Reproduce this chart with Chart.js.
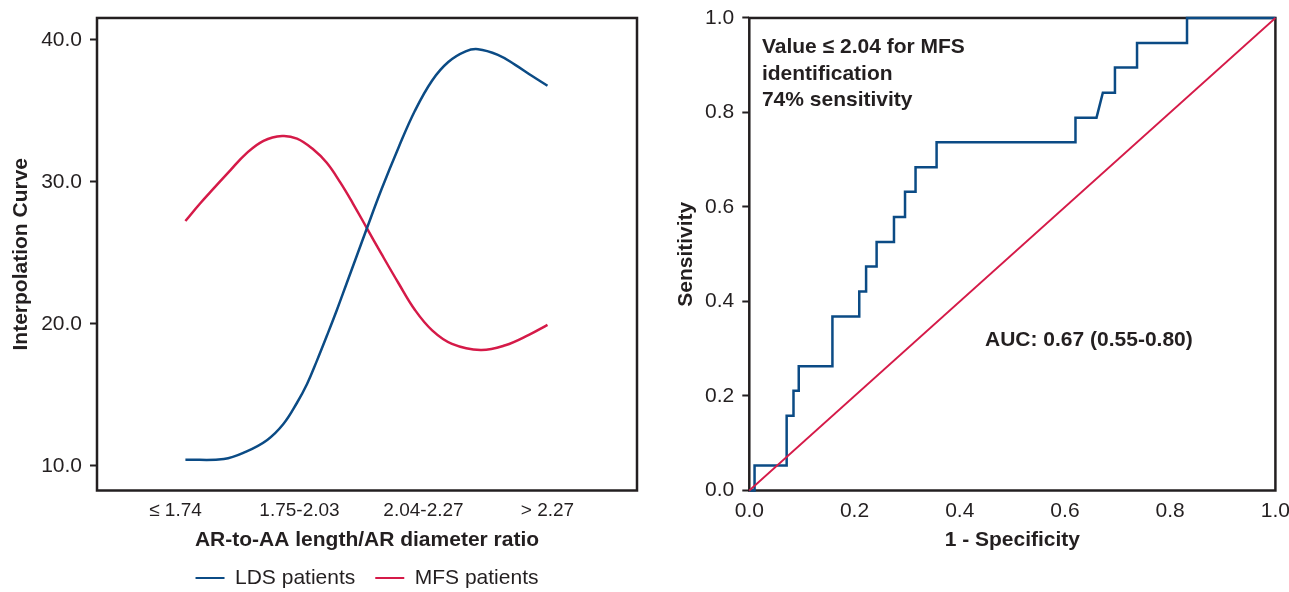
<!DOCTYPE html>
<html>
<head>
<meta charset="utf-8">
<title>AR-to-AA ratio and ROC</title>
<script src="https://cdn.jsdelivr.net/npm/chart.js@4.4.1/dist/chart.umd.min.js"></script>
<style>
  html, body { margin: 0; padding: 0; background: #fff; overflow: hidden; }
  #wrap { position: relative; width: 1289px; height: 592px; overflow: hidden; }
  .box { position: absolute; top: 0; height: 600px; }
  #left { left: 0; width: 650px; }
  #right { left: 650px; width: 648px; }
</style>
</head>
<body>
<div id="wrap">
  <div class="box" id="left"><canvas id="curveChart"></canvas></div>
  <div class="box" id="right"><canvas id="rocChart"></canvas></div>
</div>
<script>
// ---- left panel: interpolation curves per ratio category ----
const ratioLabels = ['≤ 1.74', '1.75-2.03', '2.04-2.27', '> 2.27'];
const ratioTicks = [0, 1, 2, 3];
const curveTicks = [10, 20, 30, 40];

// curve, x in category units
const ldsX = [0.08, 0.39, 0.57, 0.74, 0.87, 0.98, 1.06, 1.14, 1.22, 1.30, 1.38, 1.46, 1.54, 1.66, 1.80, 1.93, 2.07, 2.20, 2.34, 2.44, 2.60, 2.74, 2.87, 3.00];
const ldsY = [10.44, 10.49, 11.01, 11.83, 12.95, 14.45, 15.75, 17.40, 19.15, 20.95, 22.85, 24.75, 26.65, 29.45, 32.45, 35.00, 37.15, 38.45, 39.20, 39.35, 38.95, 38.25, 37.50, 36.78];
const mfsX = [0.08, 0.20, 0.31, 0.44, 0.57, 0.71, 0.86, 0.98, 1.11, 1.22, 1.33, 1.43, 1.54, 1.66, 1.80, 1.93, 2.07, 2.23, 2.46, 2.66, 2.85, 3.00];
const mfsY = [27.25, 28.50, 29.56, 30.80, 32.00, 32.90, 33.24, 33.05, 32.30, 31.35, 29.95, 28.50, 26.80, 24.95, 22.85, 21.00, 19.55, 18.60, 18.17, 18.50, 19.23, 19.93];

// ---- right panel: ROC curve ----
const rocTicks = [0, 0.2, 0.4, 0.6, 0.8, 1.0];
const rocFpr = [0, 0.010, 0.010, 0.071, 0.071, 0.084, 0.084, 0.094, 0.094, 0.158, 0.158, 0.209, 0.209, 0.222, 0.222, 0.242, 0.242, 0.275, 0.275, 0.296, 0.296, 0.316, 0.316, 0.356, 0.356, 0.620, 0.620, 0.660, 0.672, 0.695, 0.695, 0.737, 0.737, 0.832, 0.832, 1];
const rocTpr = [0, 0, 0.053, 0.053, 0.158, 0.158, 0.211, 0.211, 0.263, 0.263, 0.368, 0.368, 0.421, 0.421, 0.474, 0.474, 0.526, 0.526, 0.579, 0.579, 0.632, 0.632, 0.684, 0.684, 0.737, 0.737, 0.789, 0.789, 0.842, 0.842, 0.895, 0.895, 0.947, 0.947, 1, 1];
const chanceX = [0, 1];
const chanceY = [0, 1];

const cutoffNote = ['Value ≤ 2.04 for MFS', 'identification', '74% sensitivity'];
const aucNote = 'AUC: 0.67 (0.55-0.80)';

const INK = '#231f20';
const BLUE = '#0b4b85';
const RED = '#d51a48';
const FONT = "'Liberation Sans', Arial, Helvetica, sans-serif";

Chart.defaults.font.family = FONT;
Chart.defaults.color = INK;

const pts = (xs, ys) => xs.map((x, i) => ({ x, y: ys[i] }));

// box around the plot area, drawn under the lines
const framePlugin = {
  id: 'frame',
  beforeDatasetsDraw(chart) {
    const { ctx, chartArea: a } = chart;
    ctx.save();
    ctx.strokeStyle = INK;
    ctx.lineWidth = 2.5;
    ctx.strokeRect(a.left, a.top, a.right - a.left, a.bottom - a.top);
    ctx.restore();
  }
};

const yTickGrid = { drawOnChartArea: false, drawTicks: true, tickLength: 7, tickWidth: 2, tickColor: INK };

new Chart(document.getElementById('curveChart'), {
  type: 'line',
  data: {
    datasets: [
      { label: 'LDS patients', data: pts(ldsX, ldsY), borderColor: BLUE, backgroundColor: BLUE, borderWidth: 2.5, pointRadius: 0, tension: 0.4 },
      { label: 'MFS patients', data: pts(mfsX, mfsY), borderColor: RED, backgroundColor: RED, borderWidth: 2.5, pointRadius: 0, tension: 0.4 }
    ]
  },
  options: {
    responsive: true,
    maintainAspectRatio: false,
    animation: false,
    layout: { padding: { top: 0, right: 13, bottom: 1.5, left: 0 } },
    plugins: {
      tooltip: { enabled: false },
      legend: {
        position: 'bottom',
        fullSize: false,
        labels: {
          boxWidth: 29, boxHeight: 2, padding: 20,
          font: { size: 21 }, color: INK,
          generateLabels: (chart) => Chart.defaults.plugins.legend.labels.generateLabels(chart)
            .map(l => Object.assign(l, { lineWidth: 0, fillStyle: l.strokeStyle }))
        }
      }
    },
    scales: {
      x: {
        type: 'linear', min: -0.633, max: 3.722,
        grid: { display: false, drawTicks: false },
        border: { display: false },
        afterBuildTicks: s => { s.ticks = ratioTicks.map(v => ({ value: v })); },
        afterFit: s => { s.height = 57; },
        ticks: { padding: 9, maxRotation: 0, autoSkip: false, font: { size: 19 }, callback: v => ratioLabels[v] },
        title: { display: true, text: 'AR-to-AA length/AR diameter ratio', font: { size: 21, weight: 'bold' }, padding: { top: 0, bottom: -5 } }
      },
      y: {
        min: 8.27, max: 41.55,
        grid: yTickGrid,
        border: { display: false },
        afterBuildTicks: s => { s.ticks = curveTicks.map(v => ({ value: v })); },
        afterFit: s => { s.width = 97; },
        ticks: { padding: 8, font: { size: 21, lineHeight: 0.95 }, callback: v => v.toFixed(1) },
        title: { display: true, text: 'Interpolation Curve', font: { size: 21, weight: 'bold' }, padding: { top: 8.4, bottom: 0 } }
      }
    }
  },
  plugins: [framePlugin]
});

const notePlugin = {
  id: 'notes',
  afterDatasetsDraw(chart) {
    const { ctx, scales: { x, y } } = chart;
    ctx.save();
    ctx.fillStyle = INK;
    ctx.font = 'bold 21px ' + FONT;
    ctx.textAlign = 'left';
    ctx.textBaseline = 'middle';
    cutoffNote.forEach((line, i) => {
      ctx.fillText(line, x.getPixelForValue(0.024), y.getPixelForValue(0.9376) + i * 26.5);
    });
    ctx.fillText(aucNote, x.getPixelForValue(0.448), y.getPixelForValue(0.3185));
    ctx.restore();
  }
};

new Chart(document.getElementById('rocChart'), {
  type: 'line',
  data: {
    datasets: [
      { label: 'Reference', data: pts(chanceX, chanceY), borderColor: RED, borderWidth: 1.8, pointRadius: 0, tension: 0, clip: false },
      { label: 'ROC', data: pts(rocFpr, rocTpr), borderColor: BLUE, borderWidth: 2.5, pointRadius: 0, tension: 0, clip: false }
    ]
  },
  options: {
    responsive: true,
    maintainAspectRatio: false,
    animation: false,
    layout: { padding: { top: 0, right: 0, bottom: 52.5, left: 0 } },
    plugins: { legend: { display: false }, tooltip: { enabled: false } },
    scales: {
      x: {
        type: 'linear', min: 0, max: 1,
        grid: { display: false, drawTicks: false },
        border: { display: false },
        afterBuildTicks: s => { s.ticks = rocTicks.map(v => ({ value: v })); },
        afterFit: s => { s.height = 57; },
        ticks: { padding: 8, maxRotation: 0, autoSkip: false, font: { size: 21 }, callback: v => v.toFixed(1) },
        title: { display: true, text: '1 - Specificity', font: { size: 21, weight: 'bold' }, padding: { top: 0, bottom: -5 } }
      },
      y: {
        min: 0, max: 1,
        grid: yTickGrid,
        border: { display: false },
        afterBuildTicks: s => { s.ticks = rocTicks.map(v => ({ value: v })); },
        afterFit: s => { s.width = 99.3; },
        ticks: { padding: 8, font: { size: 21, lineHeight: 0.95 }, callback: v => v.toFixed(1) },
        title: { display: true, text: 'Sensitivity', font: { size: 21, weight: 'bold' }, padding: { top: 23.4, bottom: 0 } }
      }
    }
  },
  plugins: [framePlugin, notePlugin]
});
</script>
</body>
</html>
